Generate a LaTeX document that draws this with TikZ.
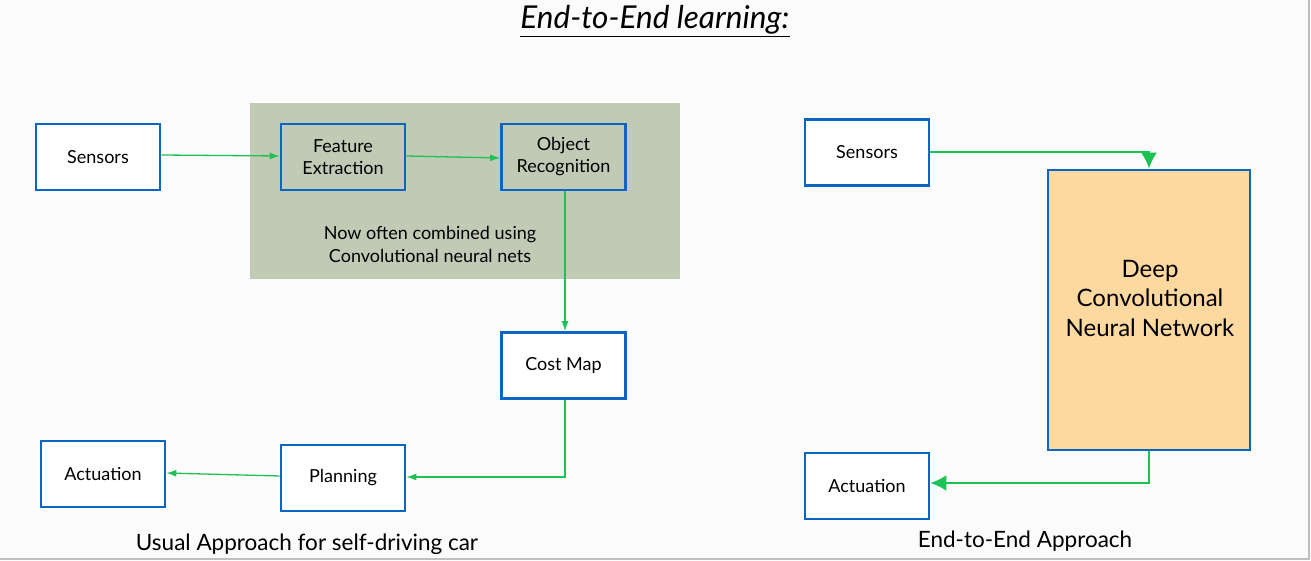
\documentclass[tikz,border=0pt]{standalone}
\usepackage{fontspec}
\setmainfont{Lato}
\usetikzlibrary{arrows.meta}
\definecolor{boxblue}{HTML}{0A66C2}
\definecolor{arrgreen}{HTML}{1DC254}
\definecolor{panel}{HTML}{C1CAB5}
\definecolor{dnn}{HTML}{FDD9A0}
\definecolor{bg}{HTML}{FBFBFB}
\tikzset{
  blk/.style={draw=boxblue, line width=2.6pt, fill=white, minimum width=124pt, minimum height=66pt, align=center, font=\fontsize{18}{22}\selectfont, inner sep=0pt},
  thinarr/.style={draw=arrgreen, line width=1.3pt, -{Latex[length=10pt,width=7pt]}},
  thickarr/.style={draw=arrgreen, line width=2.6pt, -{Latex[length=16pt,width=16pt]}},
  lbl/.style={font=\fontsize{22.5}{26}\selectfont, inner sep=0pt}
}
\begin{document}
\begin{tikzpicture}[x=1pt,y=-1pt]
\useasboundingbox (0,0) rectangle (1311,561);
\fill[bg] (0,0) rectangle (1311,561);
\draw[gray!50, line width=1.2pt] (1309,0) -- (1309,559) -- (0,559);
% title
\node[inner sep=0pt, font=\fontsize{31.5}{36}\selectfont\itshape] (title) at (655,21) {\underline{End-to-End learning:}};
% panel
\fill[panel] (250,103) rectangle (680,279);
\node[align=center, font=\fontsize{18}{23}\selectfont, inner sep=0pt] (note) at (430,244) {Now often combined using\\Convolutional neural nets};
% left boxes
\node[blk] (sL) at (98,157) {Sensors};
\node[blk, fill=panel] (fe) at (343,157) {Feature\\Extraction};
\node[blk, fill=panel] (or) at (563.5,157) {Object\\Recognition};
\node[blk] (cm) at (563.5,365.5) {Cost Map};
\node[blk] (pl) at (343,478) {Planning};
\node[blk] (aL) at (103,474) {Actuation};
\node[lbl] (usual) at (307,544) {Usual Approach for self-driving car};
% left arrows
\draw[thinarr] (sL.east |- 0,155) -- (fe.west |- 0,156);
\draw[thinarr] (fe.east |- 0,156) -- (or.west |- 0,158);
\draw[thinarr] (or.south -| 565,0) -- (cm.north -| 565,0);
\draw[thinarr] (cm.south -| 565,0) -- (565,477) -- (pl.east |- 0,477);
\draw[thinarr] (pl.west |- 0,476) -- (aL.east |- 0,473);
% right
\node[blk] (sR) at (867,152.5) {Sensors};
\node[draw=boxblue, line width=2.6pt, fill=dnn, minimum width=202pt, minimum height=280pt, inner sep=0pt] (dcnn) at (1149,310) {};
\node[align=center, inner sep=0pt, font=\fontsize{24}{29.5}\selectfont] (dcnntext) at (1150,298) {Deep\\Convolutional\\Neural Network};
\node[blk] (aR) at (867,486) {Actuation};
\node[lbl] (e2e) at (1025,541) {End-to-End Approach};
\draw[thickarr] (sR.east |- 0,152) -- (1149,152) -- (dcnn.north);
\draw[thickarr] (dcnn.south) -- (1149,483) -- (aR.east |- 0,483);
\end{tikzpicture}
\end{document}
